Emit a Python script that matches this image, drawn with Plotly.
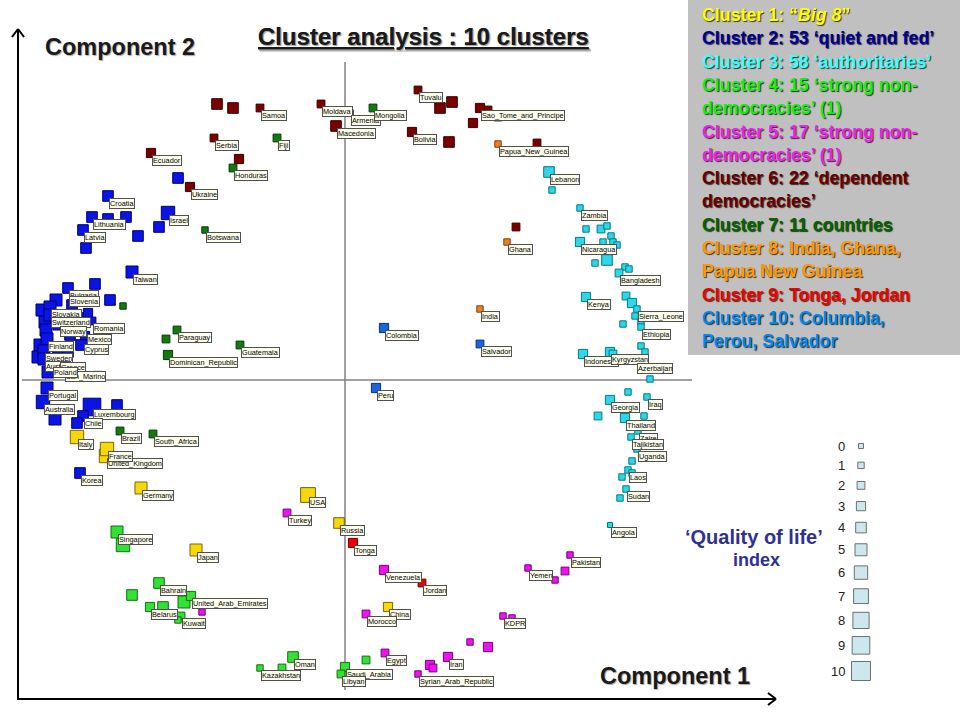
import plotly.graph_objects as go

# ---------------------------------------------------------------
# Data: (country label or "", component 1 score, component 2 score,
#        'quality of life' index 0-10)
# ---------------------------------------------------------------
cluster1 = [("Italy", -268, -57, 6), ("United_Kingdom", -239, -76, 6),
            ("France", -238, -69, 6), ("Germany", -204, -108, 5),
            ("Japan", -149, -170, 5), ("USA", -37, -115, 7),
            ("Russia", -6, -143, 4), ("China", 43, -227, 3)]

cluster2 = [("Croatia", -237, 184, 4), ("", -167, 202, 4), ("Lithuania", -253, 163, 4),
            ("", -237, 161, 4), ("", -219, 163, 4), ("Latvia", -262, 150, 4),
            ("", -207, 144, 4), ("", -186, 153, 4), ("Israel", -177, 167, 6),
            ("", -259, 132, 4), ("Taiwan", -213, 108, 5), ("", -250, 96, 4),
            ("", -235, 80, 4), ("", -303, 70, 5), ("", -300, 58, 5),
            ("", -299, 50, 5), ("", -305, 35, 5), ("", -307, 23, 5),
            ("", -297, 8, 5), ("", -273, 75, 4), ("", -265, 62, 4),
            ("", -257, 67, 3), ("", -275, 45, 4), ("", -287, 32, 4),
            ("", -277, 28, 4), ("", -270, 7, 4), ("", -247, 4, 3),
            ("Bulgaria", -277, 92, 4), ("Slovenia", -289, 80, 5),
            ("Slovakia", -295, 73, 5), ("Switzerland", -295, 65, 5),
            ("Norway", -286, 56, 5), ("Romania", -253, 59, 2),
            ("Mexico", -260, 44, 3), ("Cyprus", -264, 35, 4),
            ("Finland", -298, 41, 5), ("Sweden", -301, 29, 5),
            ("Austria", -301, 21, 5), ("Greece", -286, 20, 4),
            ("San_Marino", -281, 11, 4), ("Poland", -293, 15, 5),
            ("Portugal", -298, -8, 5), ("Australia", -302, -22, 6),
            ("", -290, -39, 5), ("Luxembourg", -253, -27, 9),
            ("", -228, -25, 4), ("Chile", -262, -36, 4),
            ("", -268, -43, 4), ("Korea", -265, -93, 4)]

cluster3 = [("Lebanon", 204, 208, 4), ("", 207, 190, 1), ("Zambia", 235, 172, 1),
            ("", 241, 151, 1), ("", 256, 151, 2), ("", 262, 154, 1),
            ("", 266, 144, 1), ("", 258, 138, 1), ("", 268, 138, 1),
            ("", 272, 135, 1), ("Nicaragua", 235, 138, 3), ("", 250, 117, 1),
            ("", 262, 120, 4), ("", 280, 113, 1), ("", 284, 111, 1),
            ("Bangladesh", 274, 107, 2), ("Kenya", 241, 83, 3), ("", 281, 84, 2),
            ("", 287, 77, 3), ("Sierra_Leone", 292, 71, 1), ("", 290, 64, 1),
            ("", 296, 58, 1), ("", 278, 56, 1), ("Ethiopia", 296, 53, 1),
            ("Indonesia", 238, 26, 3), ("Kyrgyzstan", 265, 28, 3), ("", 268, 26, 2),
            ("", 296, 34, 1), ("", 300, 28, 1), ("Azerbaijan", 291, 19, 0),
            ("", 305, 1, 1), ("", 283, -12, 1), ("Georgia", 265, -20, 3),
            ("Iraq", 302, -17, 1), ("", 253, -36, 2), ("Thailand", 280, -38, 3),
            ("", 299, -36, 1), ("Zaire", 293, -51, 1), ("Tajikistan", 286, -57, 1),
            ("Uganda", 292, -69, 1), ("", 287, -81, 1), ("Laos", 283, -90, 1),
            ("", 287, -93, 1), ("", 277, -97, 1), ("Sudan", 281, -109, 1),
            ("", 275, -118, 1), ("Angola", 265, -145, 0)]

cluster4 = [("Singapore", -228, -152, 5), ("", -222, -165, 6), ("Bahrain", -186, -203, 4),
            ("", -213, -215, 4), ("", -161, -222, 5), ("United_Arab_Emirates", -154, -216, 3),
            ("Belarus", -195, -227, 3), ("", -182, -227, 4), ("Kuwait", -164, -236, 2),
            ("", -167, -240, 1), ("Oman", -52, -277, 4), ("Kazakhstan", -85, -288, 1),
            ("", -63, -288, 2), ("Saudi_Arabia", 0, -287, 3), ("Libyan", -4, -294, 2),
            ("", 21, -280, 2)]

cluster5 = [("Turkey", -58, -133, 2), ("Venezuela", 39, -190, 3), ("Morocco", 21, -234, 2),
            ("Pakistan", 225, -175, 1), ("Yemen", 183, -188, 1), ("", 220, -191, 2),
            ("", 210, -200, 1), ("KDPR", 158, -236, 1), ("", 167, -238, 1),
            ("", 125, -262, 1), ("", 143, -267, 3), ("Egypt", 40, -273, 2),
            ("Iran", 103, -277, 3), ("", 85, -285, 3), ("", 88, -288, 2),
            ("Syrian_Arab_Republic", 73, -294, 1), ("", -143, -232, 1)]

cluster6 = [("", -128, 276, 4), ("", -112, 272, 4), ("Samoa", -85, 272, 2),
            ("Moldava", -24, 276, 2), ("Armenia", 5, 267, 1), ("Macedonia", -9, 254, 4),
            ("Tuvalu", 73, 290, 2), ("", 95, 272, 4), ("", 107, 278, 4),
            ("Bolivia", 67, 248, 3), ("", 104, 238, 4), ("", 143, 270, 2),
            ("", 153, 263, 2), ("Sao_Tome_and_Principe", 135, 272, 3), ("", 128, 257, 3),
            ("", 192, 237, 2), ("Serbia", -131, 242, 2), ("", -106, 221, 3),
            ("Ecuador", -194, 227, 3), ("Ukraine", -155, 193, 3), ("", 171, 153, 2)]

cluster7 = [("Fiji", -68, 242, 2), ("Mongolia", 28, 272, 2), ("Honduras", -112, 212, 2),
            ("Botswana", -140, 150, 1), ("", -222, 74, 1), ("Paraguay", -168, 50, 2),
            ("", -179, 41, 2), ("Dominican_Republic", -177, 25, 3), ("Guatemala", -105, 35, 2),
            ("Brazil", -225, -51, 2), ("South_Africa", -192, -54, 2)]

cluster8 = [("Papua_New_Guinea", 153, 236, 1), ("Ghana", 162, 138, 1), ("India", 135, 71, 1)]
cluster9 = [("Tonga", 8, -163, 3), ("Jordan", 77, -203, 2)]
cluster10 = [("Colombia", 39, 52, 3), ("Salvador", 135, 36, 2), ("Peru", 31, -8, 3)]

legend_lines = [
    ("Cluster 1: \u201c<i>Big 8</i>\u201d", 1),
    ("Cluster 2: 53 \u2018quiet and fed\u2019", 2),
    ("Cluster 3: 58 \u2018authoritaries\u2019", 3),
    ("Cluster 4: 15 \u2018strong non-", 4),
    ("democracies\u2019 (1)", 4),
    ("Cluster 5: 17 \u2018strong non-", 5),
    ("democracies\u2019 (1)", 5),
    ("Cluster 6: 22 \u2018dependent", 6),
    ("democracies\u2019", 6),
    ("Cluster 7: 11 countries", 7),
    ("Cluster 8: India, Ghana,", 8),
    ("Papua New Guinea", 8),
    ("Cluster 9: Tonga, Jordan", 9),
    ("Cluster 10: Columbia,", 10),
    ("Perou, Salvador", 10),
]
size_levels = list(range(11))

# ---------------------------------------------------------------
# Styles
# ---------------------------------------------------------------
clusters = [cluster1, cluster2, cluster3, cluster4, cluster5,
            cluster6, cluster7, cluster8, cluster9, cluster10]
fills = ["#f7d708", "#0a14e6", "#2ed6e8", "#33e033", "#ee12ee",
         "#7a0000", "#137a13", "#ee7f22", "#ee0000", "#1a64e0"]
edges = ["#7a6400", "#000070", "#007b85", "#107010", "#7a007a",
         "#3a0000", "#053805", "#80400a", "#700000", "#0a3080"]
text_colors = {1: "#ffff00", 2: "#000099", 3: "#33ffff", 4: "#11ee11", 5: "#ee22ee",
               6: "#660000", 7: "#006600", 8: "#ff9900", 9: "#ee0000", 10: "#0088ee"}
label_nudge = {"Slovenia": (13, 4), "Mexico": (2, 2), "Cyprus": (3, 1)}

W, H = 960, 720
X_RANGE = [-345, 615]
Y_RANGE = [-340, 380]


def qsize(q):
    return 5 + 1.4 * q


def pp(x, y):
    """page pixel -> paper coords"""
    return x / W, 1 - y / H


fig = go.Figure()

for pts, f, e in zip(clusters, fills, edges):
    fig.add_trace(go.Scatter(
        x=[p[1] for p in pts], y=[p[2] for p in pts], mode="markers",
        marker=dict(symbol="square", size=[qsize(p[3]) for p in pts],
                    color=f, line=dict(color=e, width=1), opacity=1),
        hoverinfo="skip", showlegend=False, cliponaxis=False))

# country labels
for pts in clusters:
    for name, c1, c2, q in pts:
        if not name:
            continue
        dx, dy = label_nudge.get(name, (1, -2))
        fig.add_annotation(x=c1 + dx, y=c2 + dy, text=name, xanchor="left", yanchor="top",
                           showarrow=False, font=dict(family="Arial", size=7.3, color="black"),
                           bgcolor="#ffffee", bordercolor="#505050", borderwidth=1, borderpad=0)

shapes = []
# cross-hair through the origin
shapes.append(dict(type="line", xref="x", yref="y", x0=0, x1=0, y0=-310, y1=318,
                   line=dict(color="#808080", width=1.5), layer="below"))
shapes.append(dict(type="line", xref="x", yref="y", x0=-323, x1=347, y0=0, y1=0,
                   line=dict(color="#808080", width=1.5), layer="below"))


# page axes arrows
def seg(a, b, w=2):
    (x0, y0), (x1, y1) = pp(*a), pp(*b)
    return dict(type="line", xref="paper", yref="paper", x0=x0, y0=y0, x1=x1, y1=y1,
                line=dict(color="black", width=w))


shapes += [seg((18, 700), (18, 29)), seg((12, 37), (18, 29)), seg((18, 29), (24, 37)),
           seg((17, 699), (776, 699)), seg((768, 693), (776, 699)), seg((776, 699), (768, 705))]
# legend box
bx0, by0 = pp(688, 355)
bx1, by1 = pp(960, 0)
shapes.append(dict(type="rect", xref="paper", yref="paper", x0=bx0, y0=by0, x1=bx1, y1=by1,
                   fillcolor="#c0c0c0", line=dict(width=0), layer="below"))
fig.update_layout(shapes=shapes)

# legend text
for i, (txt, c) in enumerate(legend_lines):
    ypx = 15 + i * 23.3
    x, y = pp(700, ypx)
    fig.add_annotation(x=x, y=y, xref="paper", yref="paper", xanchor="left", yanchor="middle",
                       text="<b>" + txt + "</b>", showarrow=False,
                       font=dict(family="Arial", size=17.8, color=text_colors[c],
                                 shadow="1px 1px 1px #303030"))

# quality-of-life size key
key_y = [446 + i * 19 + 0.35 * i * i for i in size_levels]
fig.add_trace(go.Scatter(
    x=[861 - 345] * len(size_levels), y=[380 - v for v in key_y], mode="markers",
    marker=dict(symbol="square", size=[qsize(q) for q in size_levels], color="#b7dee8",
                line=dict(color="#333333", width=1)),
    hoverinfo="skip", showlegend=False, cliponaxis=False))
for q, v in zip(size_levels, key_y):
    x, y = pp(847, v)
    fig.add_annotation(x=x, y=y, xref="paper", yref="paper", xanchor="right", yanchor="middle",
                       text=str(q), showarrow=False,
                       font=dict(family="Arial", size=13, color="#222222"))
for txt, (cx, cy), fs in [("\u2018Quality of life\u2019", (754, 537), 20), ("index", (756, 560), 18)]:
    x, y = pp(cx, cy)
    fig.add_annotation(x=x, y=y, xref="paper", yref="paper", xanchor="center", yanchor="middle",
                       text="<b>" + txt + "</b>", showarrow=False,
                       font=dict(family="Arial", size=fs, color="#2e3192"))

# titles
for txt, (cx, cy), size in [("<b><u>Cluster analysis : 10 clusters</u></b>", (423, 36), 24),
                            ("<b>Component 2</b>", (120, 47), 23.5),
                            ("<b>Component 1</b>", (675, 676), 23.5)]:
    x, y = pp(cx, cy)
    fig.add_annotation(x=x, y=y, xref="paper", yref="paper", xanchor="center", yanchor="middle",
                       text=txt, showarrow=False,
                       font=dict(family="Arial", size=size, color="#1a1a1a",
                                 shadow="1px 1px 1px #aaaaaa"))

fig.update_layout(
    width=W, height=H, margin=dict(l=0, r=0, t=0, b=0),
    paper_bgcolor="white", plot_bgcolor="white",
    xaxis=dict(range=X_RANGE, visible=False, fixedrange=True),
    yaxis=dict(range=Y_RANGE, visible=False, fixedrange=True),
    showlegend=False,
)

fig.write_html("out.html", config={"displayModeBar": False},
               post_script="document.body.style.margin='0px';")
